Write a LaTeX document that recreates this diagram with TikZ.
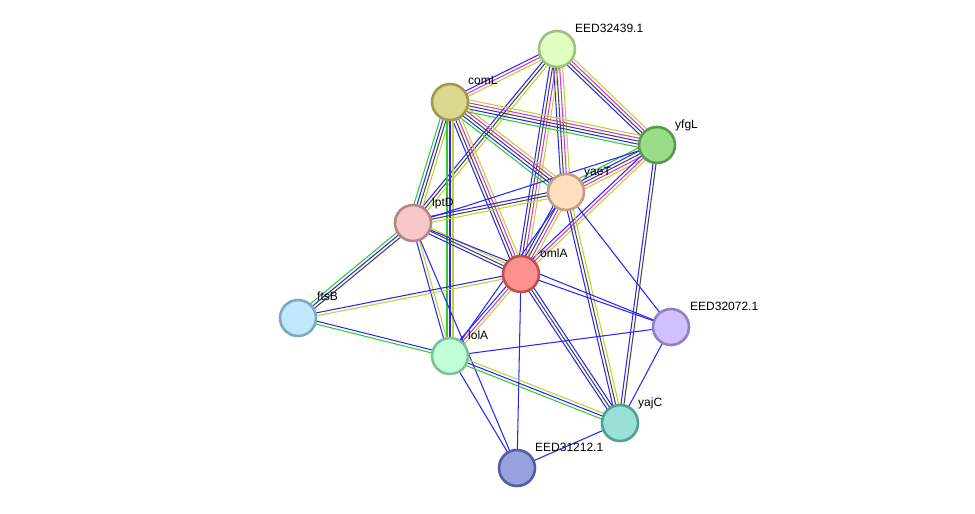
\documentclass[tikz,border=0pt]{standalone}
\usepackage{fontspec}
\setmainfont{Liberation Sans}
\usetikzlibrary{calc}
\pgfdeclarelayer{bg}
\pgfdeclarelayer{edges}
\pgfsetlayers{bg,edges,main}
\definecolor{cG}{RGB}{50,200,50}
\definecolor{cB}{RGB}{40,40,245}
\definecolor{cK}{RGB}{70,70,70}
\definecolor{cM}{RGB}{220,50,220}
\definecolor{cY}{RGB}{190,210,50}
\tikzset{
  prot/.style={circle, minimum size=36pt, inner sep=0pt, line width=2.6pt},
  plabel/.style={anchor=base west, inner sep=0pt, font=\fontsize{12pt}{14pt}\selectfont, text=black},
  eline/.style={line width=1.05pt},
}
\newcommand\edgeb[3]{%
  \foreach \c [count=\i] in {#3} {\xdef\nn{\i}}%
  \foreach \c [count=\i] in {#3} {%
    \pgfmathsetmacro\off{(\i-(\nn+1)/2)*3.0}%
    \draw[eline, c\c] ($(#1)!\off pt!90:(#2)$) -- ($(#2)!\off pt!-90:(#1)$);
  }%
}
\begin{document}
\begin{tikzpicture}[x=1pt,y=-1pt]
\useasboundingbox (0,0) rectangle (975,514);
\begin{pgfonlayer}{bg}
\fill[white] (0,0) rectangle (975,514);
\end{pgfonlayer}
% nodes
\node[prot, draw={rgb,255:red,160;green,192;blue,128}, fill={rgb,255:red,224;green,255;blue,192}] (e39) at (557,49) {};
\node[prot, draw={rgb,255:red,160;green,154;blue,80}, fill={rgb,255:red,221;green,216;blue,144}] (coml) at (450,102) {};
\node[prot, draw={rgb,255:red,90;green,154;blue,80}, fill={rgb,255:red,153;green,221;blue,136}] (yfgl) at (657,145) {};
\node[prot, draw={rgb,255:red,192;green,160;blue,128}, fill={rgb,255:red,255;green,223;blue,192}] (yaet) at (566,192) {};
\node[prot, draw={rgb,255:red,176;green,136;blue,136}, fill={rgb,255:red,248;green,200;blue,200}] (lptd) at (413,223) {};
\node[prot, draw={rgb,255:red,192;green,80;blue,80}, fill={rgb,255:red,255;green,144;blue,144}] (omla) at (521,274) {};
\node[prot, draw={rgb,255:red,128;green,168;blue,192}, fill={rgb,255:red,192;green,232;blue,255}] (ftsb) at (298,318) {};
\node[prot, draw={rgb,255:red,144;green,128;blue,192}, fill={rgb,255:red,208;green,192;blue,255}] (e72) at (671,327) {};
\node[prot, draw={rgb,255:red,128;green,192;blue,152}, fill={rgb,255:red,192;green,255;blue,216}] (lola) at (450,356) {};
\node[prot, draw={rgb,255:red,80;green,160;blue,152}, fill={rgb,255:red,153;green,224;blue,216}] (yajc) at (620,423) {};
\node[prot, draw={rgb,255:red,80;green,96;blue,160}, fill={rgb,255:red,152;green,160;blue,224}] (e12) at (517,468) {};
% labels
\node[plabel] (l-e39) at ($(e39)+(18,-16.5)$) {EED32439.1};
\node[plabel] (l-coml) at ($(coml)+(18,-18)$) {comL};
\node[plabel] (l-yfgl) at ($(yfgl)+(18,-17)$) {yfgL};
\node[plabel] (l-yaet) at ($(yaet)+(18,-17)$) {yaeT};
\node[plabel] (l-lptd) at ($(lptd)+(19,-17)$) {lptD};
\node[plabel] (l-omla) at ($(omla)+(19,-17)$) {omlA};
\node[plabel] (l-ftsb) at ($(ftsb)+(19,-18)$) {ftsB};
\node[plabel] (l-e72) at ($(e72)+(19,-17)$) {EED32072.1};
\node[plabel] (l-lola) at ($(lola)+(18,-17)$) {lolA};
\node[plabel] (l-yajc) at ($(yajc)+(18,-17)$) {yajC};
\node[plabel] (l-e12) at ($(e12)+(18,-17)$) {EED31212.1};
% edges
\begin{pgfonlayer}{edges}
\edgeb{e39}{coml}{B,M,Y}
\edgeb{e39}{yfgl}{B,K,M,Y}
\edgeb{e39}{yaet}{B,K,M,Y}
\edgeb{e39}{omla}{B,K,M,Y}
\edgeb{e39}{lptd}{B,K,Y}
\edgeb{coml}{yfgl}{G,B,K,M,Y}
\edgeb{coml}{yaet}{G,B,K,M,Y}
\edgeb{coml}{omla}{B,K,M,Y}
\edgeb{coml}{lptd}{G,B,K,Y}
\edgeb{coml}{lola}{G,B,Y}
\edgeb{yfgl}{yaet}{G,B,K,M,Y}
\edgeb{yfgl}{omla}{B,M,Y}
\edgeb{yfgl}{lptd}{B}
\edgeb{yfgl}{yajc}{B,K}
\edgeb{yaet}{omla}{B,K,M,Y}
\edgeb{yaet}{lptd}{B,K,Y}
\edgeb{yaet}{yajc}{B,K,Y}
\edgeb{yaet}{e72}{B}
\edgeb{yaet}{lola}{B}
\edgeb{lptd}{omla}{B,K,Y}
\edgeb{lptd}{ftsb}{G,B,K}
\edgeb{lptd}{lola}{B,Y}
\edgeb{lptd}{e12}{B}
\edgeb{lptd}{e72}{B}
\edgeb{omla}{ftsb}{B,Y}
\edgeb{omla}{lola}{B,M,Y}
\edgeb{omla}{e72}{B}
\edgeb{omla}{yajc}{B,K,B}
\edgeb{omla}{e12}{B}
\edgeb{ftsb}{lola}{G,B}
\edgeb{lola}{e72}{B}
\edgeb{lola}{yajc}{G,B,Y}
\edgeb{lola}{e12}{B}
\edgeb{yajc}{e72}{B}
\edgeb{yajc}{e12}{B}
\end{pgfonlayer}
\end{tikzpicture}
\end{document}
